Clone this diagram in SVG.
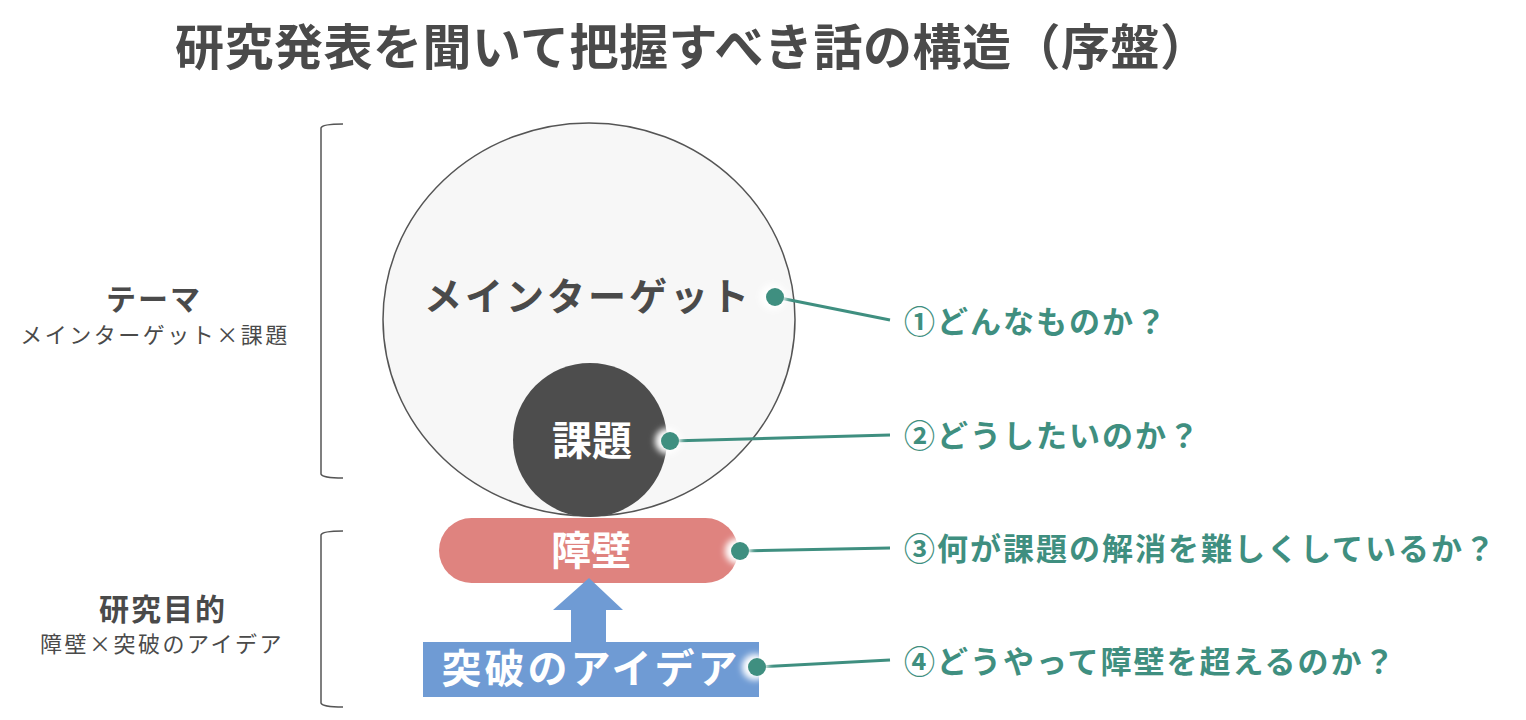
<svg xmlns="http://www.w3.org/2000/svg" width="1526" height="720" viewBox="0 0 1526 720">
<defs>
<style>
.t{font-family:"Noto Sans CJK JP","Noto Sans",sans-serif}
.title{font-size:49px;font-weight:700;fill:#4a4a4a;letter-spacing:0.5px}
.lbl{font-size:30px;font-weight:700;fill:#4a4a4a;letter-spacing:2px}
.sub{font-size:22px;fill:#4a4a4a;letter-spacing:2.5px}
.q{font-size:31px;font-weight:700;fill:#3f8f80;letter-spacing:2px}
.w{font-weight:700;fill:#ffffff;font-size:40px}
.br{fill:none;stroke:#555;stroke-width:1.5}
.con{stroke:#3f8f80;stroke-width:3;fill:none}
.dot{fill:#3f8f80}
.glow{fill:#fff;filter:url(#blur)}
</style>
<filter id="blur" x="-1" y="-1" width="3" height="3"><feGaussianBlur stdDeviation="3"/></filter>
</defs>
<rect width="1526" height="720" fill="#fff"/>
<text class="t title" x="175" y="65">研究発表を聞いて把握すべき話の構造（序盤）</text>

<g id="bracket-theme"><path class="br" d="M343,124 Q322,124 321,128 L321,474 Q322,478 343,478"/></g>
<g id="bracket-purpose"><path class="br" d="M343,531 Q322,531 321,535 L321,703 Q322,707 343,707"/></g>

<g id="label-theme">
<text class="t lbl" x="154" y="310" text-anchor="middle">テーマ</text>
<text class="t sub" x="155" y="343" text-anchor="middle">メインターゲット×課題</text>
</g>
<g id="label-purpose">
<text class="t lbl" x="163" y="620" text-anchor="middle">研究目的</text>
<text class="t sub" x="162" y="652" text-anchor="middle">障壁×突破のアイデア</text>
</g>

<g id="main-target">
<ellipse cx="589" cy="319.5" rx="206" ry="196.5" fill="#f7f7f7" stroke="#555" stroke-width="1.5"/>
<text class="t" x="588" y="310" text-anchor="middle" font-size="38" font-weight="700" fill="#4a4a4a" letter-spacing="3">メインターゲット</text>
</g>
<g id="kadai">
<circle cx="590" cy="440" r="77" fill="#4d4d4d"/>
<text class="t w" x="592" y="455" text-anchor="middle">課題</text>
</g>
<g id="shouheki">
<rect x="439" y="518" width="299" height="65" rx="32.5" fill="#df837f"/>
<text class="t w" x="591" y="565" text-anchor="middle">障壁</text>
</g>
<g id="arrow">
<polygon points="589,578 623,610 606,610 606,644 571,644 571,610 553,610" fill="#6f9bd4"/>
</g>
<g id="idea">
<rect x="423" y="642" width="336" height="55" fill="#6f9bd4"/>
<text class="t w" x="591" y="683" text-anchor="middle" letter-spacing="3">突破のアイデア</text>
</g>

<g id="connectors">
<line class="con" x1="775" y1="297" x2="890" y2="320"/>
<line class="con" x1="670" y1="441" x2="890" y2="435"/>
<line class="con" x1="740" y1="551" x2="890" y2="548"/>
<line class="con" x1="757" y1="667" x2="890" y2="660"/>
<circle class="glow" cx="773" cy="297" r="13"/>
<circle class="glow" cx="668" cy="441" r="13"/>
<circle class="glow" cx="738" cy="551" r="13"/>
<circle class="glow" cx="755" cy="667" r="13"/>
<circle class="dot" cx="775" cy="297" r="9"/>
<circle class="dot" cx="670" cy="441" r="9"/>
<circle class="dot" cx="740" cy="551" r="9"/>
<circle class="dot" cx="757" cy="667" r="9"/>
</g>

<g id="q1"><text class="t q" x="904" y="333">①どんなものか？</text></g>
<g id="q2"><text class="t q" x="904" y="447">②どうしたいのか？</text></g>
<g id="q3"><text class="t q" x="904" y="560">③何が課題の解消を難しくしているか？</text></g>
<g id="q4"><text class="t q" x="904" y="673">④どうやって障壁を超えるのか？</text></g>
</svg>
